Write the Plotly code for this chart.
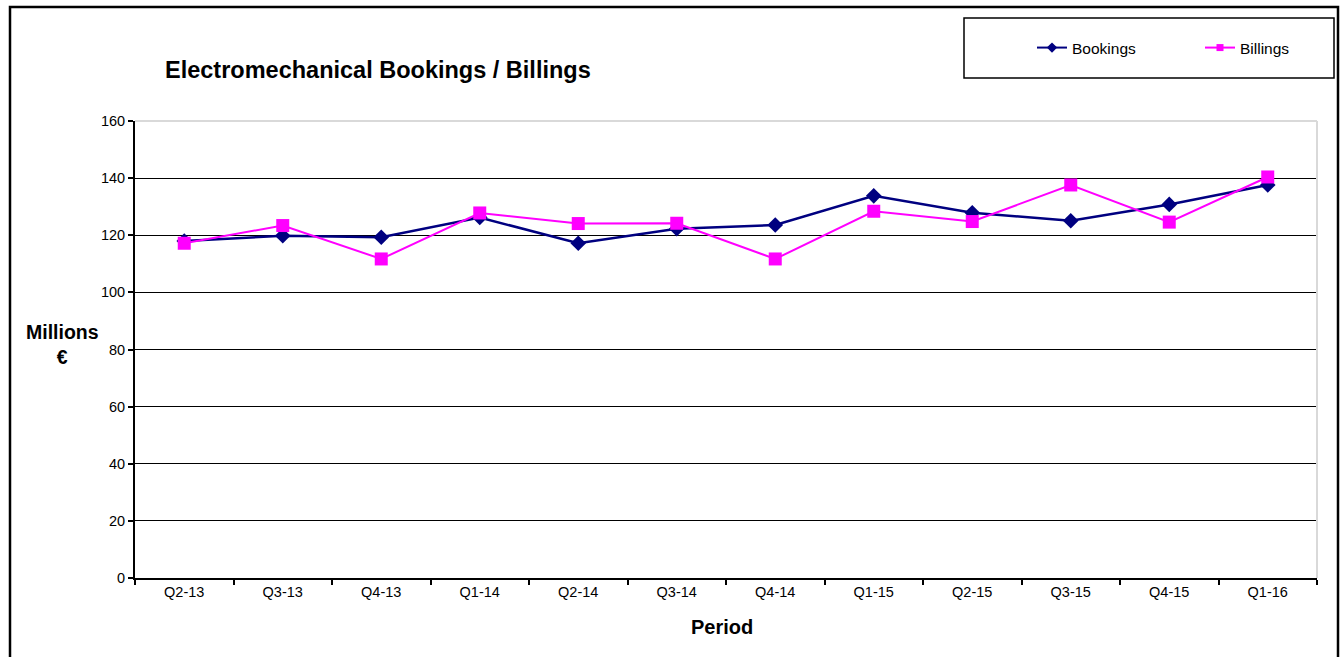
import plotly.graph_objects as go

periods = ["Q2-13", "Q3-13", "Q4-13", "Q1-14", "Q2-14", "Q3-14", "Q4-14",
           "Q1-15", "Q2-15", "Q3-15", "Q4-15", "Q1-16"]
bookings = [118.0, 119.8, 119.3, 126.2, 117.2, 122.3, 123.6, 133.8, 127.9, 125.1, 130.8, 137.6]
billings = [117.2, 123.4, 111.7, 127.8, 124.1, 124.2, 111.7, 128.4, 124.8, 137.6, 124.6, 140.4]
y_ticks = [0, 20, 40, 60, 80, 100, 120, 140, 160]

FONT = "Liberation Sans, Arial, sans-serif"
W, H = 1341, 657
L, R, T, B = 135, 1317, 121, 578  # plot area in screen pixels

NAVY, MAGENTA = "#000080", "#FF00FF"

def px(x):
    return (x - L) / (R - L)

def py(y):
    return (B - y) / (B - T)

fig = go.Figure()
fig.add_trace(go.Scatter(
    x=periods, y=bookings, name="Bookings", mode="lines+markers", showlegend=False,
    line=dict(color=NAVY, width=2.5),
    marker=dict(symbol="diamond", size=12, color=NAVY),
))
fig.add_trace(go.Scatter(
    x=periods, y=billings, name="Billings", mode="lines+markers", showlegend=False,
    line=dict(color=MAGENTA, width=2),
    marker=dict(symbol="square", size=13, color=MAGENTA),
))
# legend entries (smaller markers, as in the reference legend)
fig.add_trace(go.Scatter(
    x=[None], y=[None], name="Bookings", mode="lines+markers",
    line=dict(color=NAVY, width=2), marker=dict(symbol="diamond", size=8, color=NAVY),
))
fig.add_trace(go.Scatter(
    x=[None], y=[None], name="Billings", mode="lines+markers",
    line=dict(color=MAGENTA, width=2), marker=dict(symbol="square", size=7, color=MAGENTA),
))

fig.update_layout(
    width=W, height=H,
    margin=dict(l=L, r=W - R, t=T, b=H - B, autoexpand=False),
    paper_bgcolor="white", plot_bgcolor="white",
    font=dict(family=FONT, color="black", size=14),
    showlegend=True,
    legend=dict(
        orientation="h", x=px(1032), y=py(48), xanchor="left", yanchor="middle",
        font=dict(size=15.5, family=FONT), bgcolor="rgba(0,0,0,0)",
        entrywidth=123, entrywidthmode="pixels", borderwidth=0,
    ),
    xaxis=dict(
        type="category", showgrid=False, showline=True, linecolor="black", linewidth=2,
        ticks="outside", tickson="boundaries", ticklen=5, tickcolor="black", tickwidth=1.5,
        tickfont=dict(size=14.5, family=FONT), range=[-0.5, len(periods) - 0.5],
        fixedrange=True,
    ),
    yaxis=dict(
        range=[0, 160], tickvals=y_ticks, showgrid=True, gridcolor="black", gridwidth=1.2,
        showline=True, linecolor="black", linewidth=2, ticks="outside", ticklen=5,
        tickcolor="black", tickwidth=1.5, tickfont=dict(size=14.5, family=FONT),
        zeroline=False, fixedrange=True,
    ),
    shapes=[
        # gray top and right border of plot area
        dict(type="line", xref="paper", yref="paper", x0=0, x1=1, y0=1, y1=1,
             line=dict(color="#d9d9d9", width=2), layer="above"),
        dict(type="line", xref="paper", yref="paper", x0=1, x1=1, y0=0, y1=1,
             line=dict(color="#d9d9d9", width=2), layer="above"),
        # outer chart border
        dict(type="rect", xref="paper", yref="paper", x0=px(10), x1=px(1338),
             y0=py(680), y1=py(7), line=dict(color="black", width=2.5)),
        # legend box
        dict(type="rect", xref="paper", yref="paper", x0=px(964), x1=px(1334),
             y0=py(78), y1=py(18), line=dict(color="black", width=1.5)),
    ],
    annotations=[
        dict(text="<b>Electromechanical Bookings / Billings</b>", xref="paper", yref="paper",
             x=px(163), y=py(70), xanchor="left", yanchor="middle", showarrow=False,
             font=dict(size=23.5, family=FONT)),
        dict(text="<b>Millions</b><br><b>€</b>", xref="paper", yref="paper",
             x=px(62), y=py(344), xanchor="center", yanchor="middle", showarrow=False,
             font=dict(size=19.5, family=FONT), align="center"),
        dict(text="<b>Period</b>", xref="paper", yref="paper",
             x=px(722), y=py(627), xanchor="center", yanchor="middle", showarrow=False,
             font=dict(size=20, family=FONT)),
    ],
)

fig.write_html(
    "out.html",
    config={"displayModeBar": False},
    post_script="document.body.style.margin='0';document.body.style.overflow='hidden';",
)
